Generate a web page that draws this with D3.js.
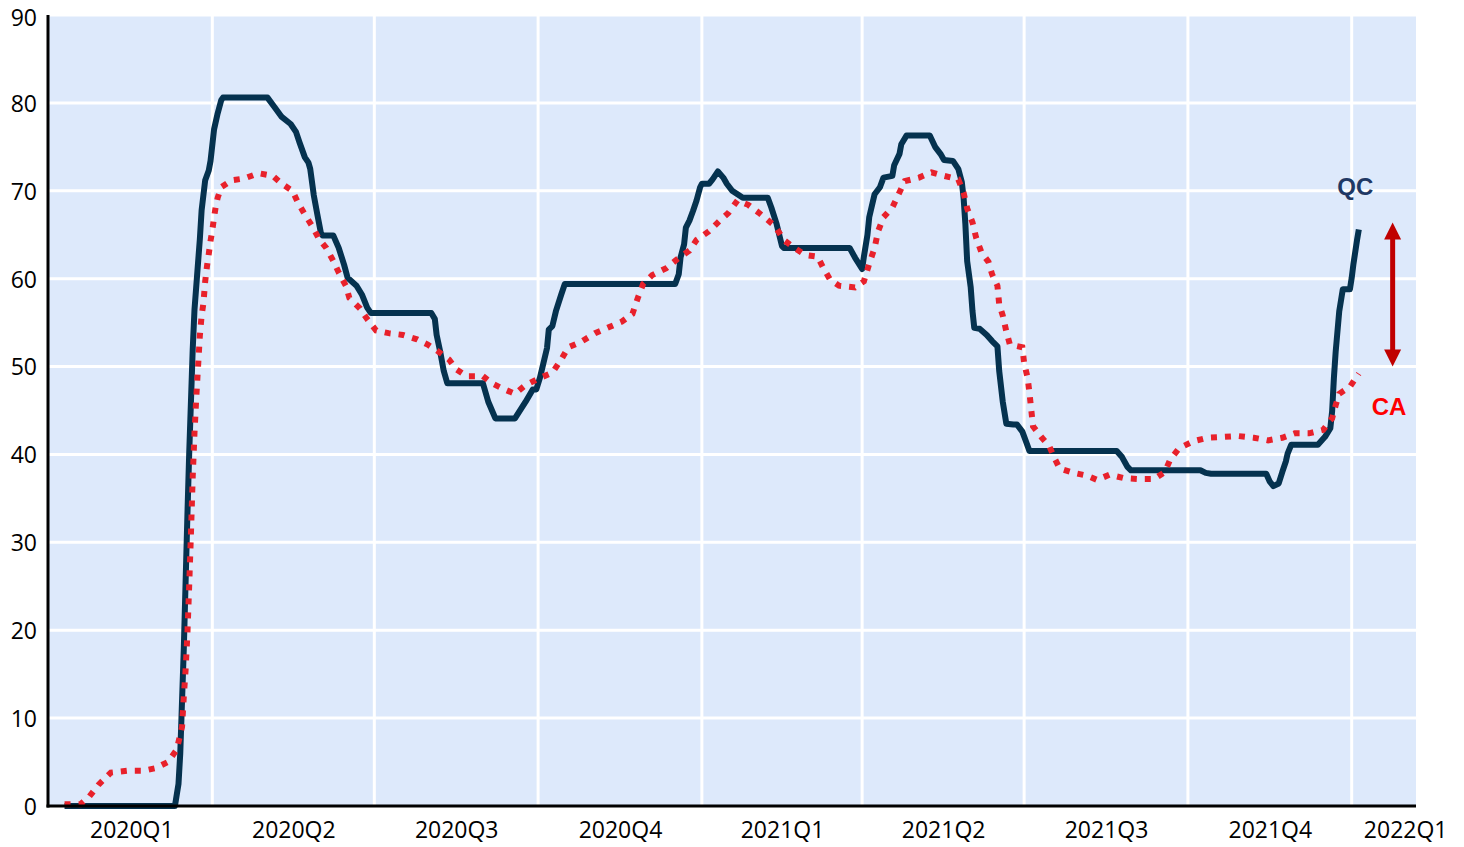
<!DOCTYPE html>
<html>
<head>
<meta charset="utf-8">
<script src="https://cdn.jsdelivr.net/npm/d3@7"></script>
<style>
  html, body { margin: 0; padding: 0; background: #ffffff; }
  svg { display: block; }
</style>
</head>
<body>
<svg id="chart" width="1464" height="847"></svg>
<script>
// ---------------- DATA ----------------
const qcSeries = [
  ["2020-01-09",0],["2020-03-11",0],["2020-03-13",2.5],["2020-03-14",6],["2020-03-16",18],["2020-03-18",33],
  ["2020-03-19",40],["2020-03-21",52],["2020-03-22",56.5],["2020-03-25",64.5],["2020-03-26",67.8],["2020-03-28",71.2],
  ["2020-03-30",72.3],["2020-03-31",73.4],["2020-04-02",77],["2020-04-04",78.8],["2020-04-06",80.3],["2020-04-07",80.6],
  ["2020-05-02",80.6],["2020-05-06",79.5],["2020-05-10",78.4],["2020-05-15",77.6],["2020-05-18",76.7],["2020-05-20",75.5],
  ["2020-05-23",73.8],["2020-05-25",73.2],["2020-05-26",72.5],["2020-05-28",69.5],["2020-05-30",67.3],["2020-06-01",65.2],
  ["2020-06-02",64.9],["2020-06-08",64.9],["2020-06-11",63.5],["2020-06-14",61.6],["2020-06-16",60.1],["2020-06-21",59.2],
  ["2020-06-24",58.2],["2020-06-27",56.7],["2020-06-29",56.1],["2020-08-02",56.1],["2020-08-04",55.4],["2020-08-05",53.6],
  ["2020-08-07",51.7],["2020-08-09",49.5],["2020-08-11",48.1],["2020-08-31",48.1],["2020-09-03",46.0],["2020-09-07",44.1],
  ["2020-09-18",44.1],["2020-09-24",46.0],["2020-09-28",47.4],["2020-09-30",47.4],["2020-10-02",48.7],["2020-10-06",52.1],
  ["2020-10-07",54.2],["2020-10-09",54.6],["2020-10-11",56.3],["2020-10-14",58.2],["2020-10-16",59.4],["2020-12-17",59.4],
  ["2020-12-19",60.5],["2020-12-20",62.4],["2020-12-22",63.9],["2020-12-23",65.8],["2020-12-25",66.6],["2020-12-27",67.7],
  ["2020-12-29",68.9],["2020-12-31",70.4],["2021-01-01",70.8],["2021-01-05",70.8],["2021-01-07",71.3],["2021-01-10",72.2],
  ["2021-01-13",71.5],["2021-01-15",70.8],["2021-01-18",70.0],["2021-01-21",69.6],["2021-01-24",69.2],["2021-02-07",69.2],
  ["2021-02-09",68.1],["2021-02-12",66.2],["2021-02-15",63.7],["2021-02-16",63.5],["2021-03-25",63.5],["2021-03-28",62.4],
  ["2021-04-01",61.1],["2021-04-02",62.5],["2021-04-04",65.0],["2021-04-05",67.0],["2021-04-08",69.6],["2021-04-11",70.4],
  ["2021-04-13",71.5],["2021-04-18",71.7],["2021-04-19",72.9],["2021-04-22",74.2],["2021-04-23",75.3],["2021-04-26",76.3],
  ["2021-05-09",76.3],["2021-05-12",75.0],["2021-05-15",74.2],["2021-05-17",73.5],["2021-05-22",73.4],["2021-05-25",72.5],
  ["2021-05-27",71.0],["2021-05-28",69.2],["2021-05-29",66.2],["2021-05-30",62.0],["2021-06-01",59.0],["2021-06-02",56.3],
  ["2021-06-03",54.4],["2021-06-06",54.3],["2021-06-10",53.6],["2021-06-13",52.9],["2021-06-16",52.3],["2021-06-17",49.5],
  ["2021-06-19",46.0],["2021-06-21",43.5],["2021-06-25",43.4],["2021-06-27",43.4],["2021-06-30",42.6],["2021-07-02",41.5],
  ["2021-07-04",40.4],["2021-08-22",40.4],["2021-08-25",39.7],["2021-08-28",38.6],["2021-08-30",38.2],["2021-10-08",38.2],
  ["2021-10-11",37.9],["2021-10-14",37.8],["2021-11-14",37.8],["2021-11-16",36.9],["2021-11-18",36.4],["2021-11-21",36.7],
  ["2021-11-23",38.0],["2021-11-25",39.2],["2021-11-26",40.1],["2021-11-28",41.1],["2021-12-13",41.1],["2021-12-17",42.0],
  ["2021-12-20",43.0],["2021-12-21",44.9],["2021-12-22",48.7],["2021-12-23",51.7],["2021-12-25",56.3],["2021-12-27",58.8],
  ["2021-12-31",58.8],["2022-01-01",60.1],["2022-01-02",61.7],["2022-01-04",64.4],["2022-01-05",65.6]
];

const caSeries = [
  ["2020-01-09",0.2],["2020-01-18",0.2],["2020-01-23",1.1],["2020-01-28",2.4],["2020-02-04",3.8],["2020-02-13",4.0],
  ["2020-02-22",4.0],["2020-02-29",4.3],["2020-03-07",5.0],["2020-03-12",6.4],["2020-03-15",9.0],["2020-03-16",12.5],
  ["2020-03-17",15.5],["2020-03-18",19.5],["2020-03-19",25],["2020-03-20",31],["2020-03-21",37.5],["2020-03-22",42.5],
  ["2020-03-23",46.5],["2020-03-24",50],["2020-03-25",53.5],["2020-03-26",55.8],["2020-03-27",57.2],["2020-03-28",59.7],
  ["2020-03-29",61.4],["2020-03-30",62.8],["2020-03-31",64.3],["2020-04-01",65.5],["2020-04-02",67.0],["2020-04-03",68.3],
  ["2020-04-04",69.2],["2020-04-06",70.4],["2020-04-12",71.2],["2020-04-19",71.4],["2020-04-27",72.0],["2020-05-05",71.7],
  ["2020-05-10",70.8],["2020-05-16",70.0],["2020-05-19",68.7],["2020-05-23",67.3],["2020-05-27",66.0],["2020-05-31",64.5],
  ["2020-06-04",63.5],["2020-06-08",62.0],["2020-06-11",60.7],["2020-06-15",59.2],["2020-06-17",57.8],["2020-06-23",56.6],
  ["2020-06-27",55.4],["2020-07-02",54.1],["2020-07-09",53.8],["2020-07-17",53.6],["2020-07-25",53.1],["2020-07-31",52.5],
  ["2020-08-06",51.7],["2020-08-12",50.8],["2020-08-16",49.7],["2020-08-22",48.9],["2020-08-31",48.9],["2020-09-05",48.1],
  ["2020-09-11",47.5],["2020-09-18",46.9],["2020-09-24",47.9],["2020-10-02",48.7],["2020-10-09",49.3],["2020-10-14",50.8],
  ["2020-10-18",52.2],["2020-10-25",52.8],["2020-11-02",53.8],["2020-11-10",54.5],["2020-11-17",55.1],["2020-11-23",56.0],
  ["2020-11-26",57.8],["2020-11-29",59.4],["2020-12-04",60.4],["2020-12-12",61.2],["2020-12-18",62.2],["2020-12-25",63.2],
  ["2020-12-29",64.4],["2021-01-05",65.4],["2021-01-11",66.6],["2021-01-16",67.5],["2021-01-21",68.9],["2021-01-27",68.4],
  ["2021-02-02",67.5],["2021-02-11",66.0],["2021-02-16",64.4],["2021-02-22",63.5],["2021-02-28",62.7],["2021-03-07",62.5],
  ["2021-03-10",61.3],["2021-03-14",59.9],["2021-03-19",59.2],["2021-03-28",59.0],["2021-04-02",59.7],["2021-04-05",61.7],
  ["2021-04-08",63.5],["2021-04-10",65.4],["2021-04-13",67.0],["2021-04-18",68.1],["2021-04-21",69.4],["2021-04-25",71.1],
  ["2021-05-03",71.5],["2021-05-10",72.1],["2021-05-17",71.7],["2021-05-25",71.3],["2021-05-28",69.8],["2021-05-30",68.0],
  ["2021-06-02",66.4],["2021-06-04",64.7],["2021-06-07",63.0],["2021-06-11",61.9],["2021-06-13",60.5],["2021-06-16",59.2],
  ["2021-06-17",57.1],["2021-06-19",55.8],["2021-06-21",54.0],["2021-06-23",52.5],["2021-06-30",52.2],["2021-07-01",50.4],
  ["2021-07-03",48.7],["2021-07-04",47.0],["2021-07-05",45.1],["2021-07-06",43.2],["2021-07-11",41.9],["2021-07-15",41.0],
  ["2021-07-18",39.6],["2021-07-21",38.4],["2021-07-29",37.9],["2021-08-05",37.6],["2021-08-11",37.1],["2021-08-18",37.7],
  ["2021-08-26",37.3],["2021-09-03",37.2],["2021-09-12",37.2],["2021-09-18",38.0],["2021-09-21",39.4],["2021-09-26",40.7],
  ["2021-10-04",41.5],["2021-10-12",41.9],["2021-10-21",42.0],["2021-10-29",42.1],["2021-11-07",41.9],["2021-11-15",41.6],
  ["2021-11-23",41.9],["2021-11-30",42.4],["2021-12-08",42.4],["2021-12-16",42.8],["2021-12-20",43.9],["2021-12-21",44.1],
  ["2021-12-23",45.6],["2021-12-25",46.9],["2021-12-31",47.7],["2022-01-05",49.2]
];

const quarterStarts = ["2020-01-01","2020-04-01","2020-07-01","2020-10-01","2021-01-01","2021-04-01",
                       "2021-07-01","2021-10-01","2022-01-01","2022-04-01"];
const quarterLabels = ["2020Q1","2020Q2","2020Q3","2020Q4","2021Q1","2021Q2","2021Q3","2021Q4","2022Q1"];
const yTicks = [0,10,20,30,40,50,60,70,80,90];

// annotations: [text, date, value]
const seriesLabels = [["QC","2022-01-03",69.5],["CA","2022-01-22",44.5]];
const gapArrow = { date: "2022-01-24", from: 50.0, to: 66.4 };

// ---------------- LAYOUT ----------------
const W = 1464, H = 847;
const plotLeft = 48, plotRight = 1416, plotTop = 15, plotBottom = 806;
const FONT = "'Open Sans', 'Liberation Sans', sans-serif";

const parse = d3.utcParse("%Y-%m-%d");
const svg = d3.select("#chart");

const x = d3.scaleUtc()
  .domain([parse("2020-01-01"), parse("2022-01-01")])
  .range([50.3, 1351.7]);
const y = d3.scaleLinear().domain([0, 90]).range([plotBottom, plotTop]);

// background
svg.append("rect").attr("x",0).attr("y",0).attr("width",W).attr("height",H).attr("fill","#ffffff");
svg.append("rect")
  .attr("x", plotLeft).attr("y", plotTop)
  .attr("width", plotRight - plotLeft).attr("height", plotBottom - plotTop)
  .attr("fill", "#dde9fb");

// horizontal gridlines
svg.append("g").selectAll("line")
  .data(yTicks.filter(v => v > 0))
  .join("line")
  .attr("x1", plotLeft).attr("x2", plotRight)
  .attr("y1", d => y(d)).attr("y2", d => y(d))
  .attr("stroke", "#ffffff").attr("stroke-width", 3);

// vertical gridlines at quarter boundaries
const qStartDates = quarterStarts.map(parse);
svg.append("g").selectAll("line")
  .data(qStartDates.filter(d => x(d) > plotLeft + 5 && x(d) < plotRight))
  .join("line")
  .attr("x1", d => x(d)).attr("x2", d => x(d))
  .attr("y1", plotTop).attr("y2", plotBottom)
  .attr("stroke", "#ffffff").attr("stroke-width", 3);

// lines
const line = d3.line()
  .x(d => x(parse(d[0])))
  .y(d => y(d[1]))
  .curve(d3.curveLinear);

svg.append("path")
  .datum(qcSeries)
  .attr("d", line)
  .attr("fill", "none")
  .attr("stroke", "#05324f")
  .attr("stroke-width", 6)
  .attr("stroke-linejoin", "round")
  .attr("stroke-linecap", "butt");

svg.append("path")
  .datum(caSeries)
  .attr("d", line)
  .attr("fill", "none")
  .attr("stroke", "#e8212b")
  .attr("stroke-width", 6)
  .attr("stroke-dasharray", "6,8")
  .attr("stroke-linecap", "butt");

// axes lines
svg.append("line")
  .attr("x1", plotLeft).attr("x2", plotLeft)
  .attr("y1", plotTop).attr("y2", plotBottom + 1.5)
  .attr("stroke", "#000").attr("stroke-width", 3);
svg.append("line")
  .attr("x1", plotLeft - 1.5).attr("x2", plotRight)
  .attr("y1", plotBottom).attr("y2", plotBottom)
  .attr("stroke", "#000").attr("stroke-width", 3);

// y axis labels
const yAxis = d3.axisLeft(y).tickValues(yTicks).tickSize(0).tickPadding(11).tickFormat(d3.format("d"));
const gy = svg.append("g").attr("transform", `translate(${plotLeft},0)`).call(yAxis);
gy.select(".domain").remove();
gy.selectAll("text")
  .attr("font-family", FONT).attr("font-size", 23).attr("fill", "#000")
  .attr("y", d => d === 90 ? 3 : 1);

// x axis labels at quarter midpoints
const midpoints = quarterLabels.map((q, i) => new Date((qStartDates[i].getTime() + qStartDates[i+1].getTime()) / 2));
const labelByTime = new Map(midpoints.map((d, i) => [d.getTime(), quarterLabels[i]]));
const xAxis = d3.axisBottom(x).tickValues(midpoints).tickSize(0).tickPadding(16)
  .tickFormat(d => labelByTime.get(d.getTime()));
const gx = svg.append("g").attr("transform", `translate(0,${plotBottom})`).call(xAxis);
gx.select(".domain").remove();
gx.selectAll("text").attr("font-family", FONT).attr("font-size", 23).attr("fill", "#000");
// keep the last label inside the picture (as the original does)
gx.selectAll(".tick").each(function(d) {
  const t = d3.select(this).select("text");
  const tx = x(d);
  const w = t.node().getComputedTextLength();
  const maxRight = 1447;
  if (tx + w / 2 > maxRight) {
    t.attr("text-anchor", "end").attr("x", maxRight - tx);
  }
});

// series labels
const labelColors = { QC: "#1f3864", CA: "#ff0000" };
svg.append("g").selectAll("text")
  .data(seriesLabels)
  .join("text")
  .attr("x", d => x(parse(d[1])))
  .attr("y", d => y(d[2]))
  .attr("text-anchor", "middle")
  .attr("font-family", "'Liberation Sans', Arial, sans-serif")
  .attr("font-weight", "bold")
  .attr("font-size", 24)
  .attr("fill", d => labelColors[d[0]])
  .text(d => d[0]);

// double-headed arrow
const ax = x(parse(gapArrow.date));
const yTop = y(gapArrow.to), yBot = y(gapArrow.from);
const headH = 17, headW = 17;
const arrowColor = "#c00000";
svg.append("line")
  .attr("x1", ax).attr("x2", ax)
  .attr("y1", yTop + headH - 1).attr("y2", yBot - headH + 1)
  .attr("stroke", arrowColor).attr("stroke-width", 5);
svg.append("path")
  .attr("d", `M${ax},${yTop} L${ax - headW/2},${yTop + headH} L${ax + headW/2},${yTop + headH} Z`)
  .attr("fill", arrowColor);
svg.append("path")
  .attr("d", `M${ax},${yBot} L${ax - headW/2},${yBot - headH} L${ax + headW/2},${yBot - headH} Z`)
  .attr("fill", arrowColor);
</script>
</body>
</html>
